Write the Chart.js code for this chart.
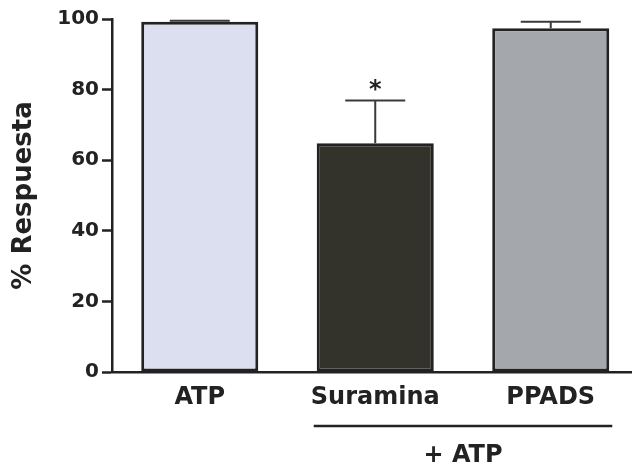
<!DOCTYPE html>
<html>
<head>
<meta charset="utf-8">
<script src="https://cdn.jsdelivr.net/npm/chart.js@4/dist/chart.umd.min.js"></script>
<style>
  html, body { margin: 0; padding: 0; background: #fff; }
  #wrap { width: 632px; height: 465px; }
</style>
</head>
<body>
<div id="wrap"><canvas id="respChart"></canvas></div>
<script>
// values
const categories = ["ATP", "Suramina", "PPADS"];
const responses = [99.2, 64.8, 97.4];
const errors = [0.3, 12.1, 1.8];
const significant = [false, true, false];
const yTicks = [0, 20, 40, 60, 80, 100];
const groupLabel = "+ ATP";
const groupMembers = [1, 2];

const fills = ["#dcdff0", "#33332c", "#a4a7ab"];
const ink = "#222222";
const fontFamily = "'DejaVu Sans', sans-serif";

// error bars, asterisk and the "+ ATP" bracket
const extrasPlugin = {
  id: "extras",
  afterDatasetsDraw(chart) {
    const ctx = chart.ctx;
    const y = chart.scales.y;
    const bars = chart.getDatasetMeta(0).data;
    ctx.save();
    bars.forEach((bar, i) => {
      const top = y.getPixelForValue(responses[i] + errors[i]);
      ctx.strokeStyle = "#3a3a3a";
      ctx.lineWidth = 2;
      ctx.beginPath();
      ctx.moveTo(bar.x, bar.y);
      ctx.lineTo(bar.x, top);
      ctx.moveTo(bar.x - 30, top);
      ctx.lineTo(bar.x + 30, top);
      ctx.stroke();
      if (significant[i]) {
        ctx.fillStyle = ink;
        ctx.font = "bold 24px " + fontFamily;
        ctx.textAlign = "center";
        ctx.textBaseline = "middle";
        ctx.fillText("*", bar.x, top - 10);
      }
    });

    const first = bars[groupMembers[0]];
    const last = bars[groupMembers[groupMembers.length - 1]];
    const x0 = first.x - first.width / 2 - 3;
    const x1 = last.x + last.width / 2 + 3;
    const lineY = chart.chartArea.bottom + 54;
    ctx.strokeStyle = ink;
    ctx.lineWidth = 2.5;
    ctx.beginPath();
    ctx.moveTo(x0, lineY);
    ctx.lineTo(x1, lineY);
    ctx.stroke();
    ctx.fillStyle = ink;
    ctx.font = "bold 24px " + fontFamily;
    ctx.textAlign = "center";
    ctx.textBaseline = "middle";
    ctx.fillText(groupLabel, (x0 + x1) / 2, lineY + 30);
    ctx.restore();
  }
};

new Chart(document.getElementById("respChart"), {
  type: "bar",
  data: {
    datasets: [{
      data: responses.map((v, i) => ({ x: i, y: v })),
      backgroundColor: fills,
      borderColor: ink,
      borderWidth: 3,
      borderSkipped: false,
      categoryPercentage: 1,
      barPercentage: 0.667
    }]
  },
  options: {
    responsive: true,
    maintainAspectRatio: false,
    animation: false,
    layout: { padding: { top: 19, right: 0, left: 0, bottom: 0 } },
    plugins: { legend: { display: false }, tooltip: { enabled: false } },
    scales: {
      x: {
        type: "linear",
        offset: false,
        min: -0.5,
        max: 2.463,
        afterBuildTicks: s => { s.ticks = categories.map((c, i) => ({ value: i })); },
        afterFit: s => { s.height = 93; },
        grid: { display: false, drawTicks: false, offset: false },
        border: { display: true, color: ink, width: 2.5 },
        ticks: {
          padding: 11,
          color: ink,
          font: { family: fontFamily, size: 24, weight: "bold" },
          callback: v => categories[v]
        }
      },
      y: {
        min: 0,
        max: 100,
        afterBuildTicks: s => { s.ticks = yTicks.map(v => ({ value: v })); },
        afterFit: s => { s.width = 112; },
        grid: { drawOnChartArea: false, drawTicks: true, tickLength: 10, tickWidth: 2.5, color: ink },
        border: { display: true, color: ink, width: 2.5 },
        ticks: {
          padding: 3,
          color: ink,
          font: { family: fontFamily, size: 20, weight: "bold" }
        },
        title: {
          display: true,
          text: "% Respuesta",
          color: ink,
          padding: { top: 9, bottom: 0 },
          font: { family: fontFamily, size: 26, weight: "bold" }
        }
      }
    }
  },
  plugins: [extrasPlugin]
});
</script>
</body>
</html>
